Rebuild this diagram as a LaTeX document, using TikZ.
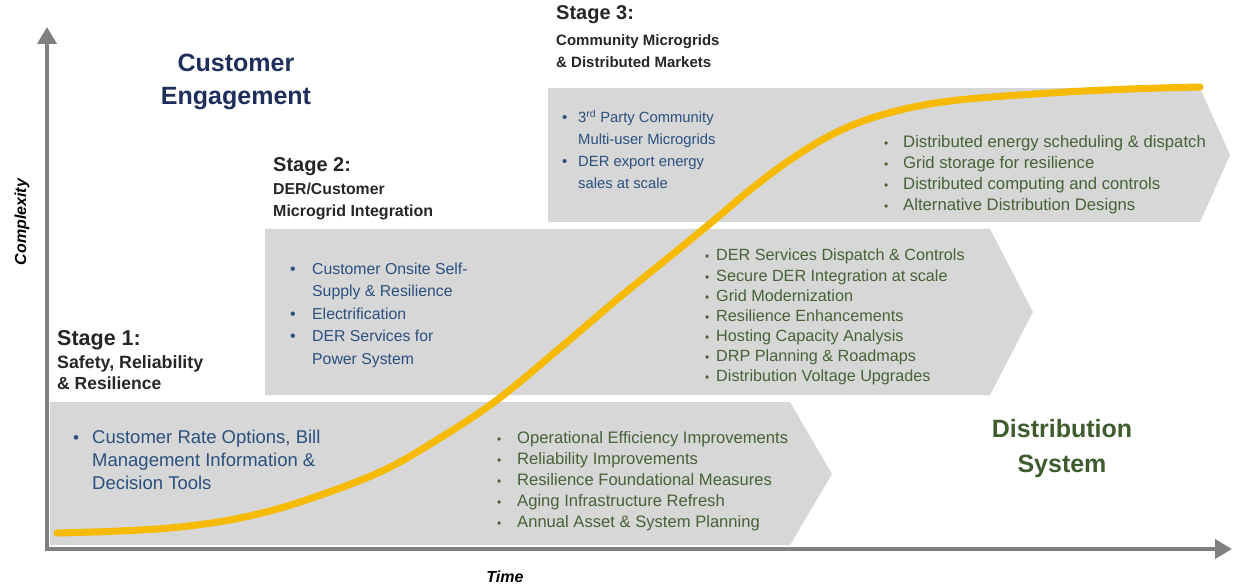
\documentclass[tikz,border=0pt]{standalone}
\usepackage{fontspec}
\setmainfont{Liberation Sans}
\usepackage{xcolor}
\definecolor{mynavy}{RGB}{30,47,92}
\definecolor{mybluetxt}{RGB}{42,80,128}
\definecolor{mydarkgreen}{RGB}{62,92,46}
\definecolor{mygreentxt}{RGB}{70,98,54}
\definecolor{mybandgrey}{RGB}{215,215,215}
\definecolor{myaxisgrey}{RGB}{128,128,128}
\definecolor{mygold}{RGB}{246,186,0}
\usetikzlibrary{arrows.meta,positioning}

\begin{document}
\begin{tikzpicture}[
  x=1pt, y=-1pt,
  myband/.style={fill=mybandgrey, draw=none},
  myaxisline/.style={draw=myaxisgrey, line width=4pt, line cap=rect,
    -{Triangle[width=19pt,length=17pt]}},
  mycurve/.style={draw=mygold, line width=7pt, line cap=round},
  mystage/.style={anchor=base west, inner sep=0pt, text=black!85,
    font=\bfseries\fontsize{#1}{24}\selectfont},
  mysub/.style={anchor=base west, inner sep=0pt, text=black!85,
    font=\bfseries\fontsize{#1}{18}\selectfont},
  mybig/.style={anchor=base, inner sep=0pt,
    font=\bfseries\fontsize{25}{29}\selectfont},
  myblueitem/.style={anchor=base west, inner sep=0pt, text=mybluetxt,
    font=\fontsize{#1}{20}\selectfont},
  mygreenitem/.style={anchor=base west, inner sep=0pt, text=mygreentxt,
    font=\fontsize{#1}{18}\selectfont},
  myaxislabel/.style={inner sep=0pt,
    font=\bfseries\itshape\fontsize{16}{19}\selectfont}
]
\useasboundingbox (0,0) rectangle (1233,585);

% bands
\fill[myband] (50,402) -- (790,402) -- (832,474) -- (790,545) -- (50,545) -- cycle;
\fill[myband] (265,229) -- (990,229) -- (1033,312) -- (990,395) -- (265,395) -- cycle;
\fill[myband] (548,88) -- (1200,88) -- (1230,155) -- (1200,222) -- (548,222) -- cycle;

% axes
\coordinate (origin) at (47,549);
\coordinate (ytip) at (47,27);
\coordinate (xtip) at (1232,549);
\draw[myaxisline] (origin) -- (ytip);
\draw[myaxisline] (origin) -- (xtip);

\node[myaxislabel, rotate=90] (ylabel) at (22,222) {Complexity};
\node[myaxislabel] (xlabel) at (505,577) {Time};

% big labels
\node[mybig, text=mynavy] (ce1) at (236,72) {Customer};
\node[mybig, text=mynavy] (ce2) at (236,105) {Engagement};
\node[mybig, text=mydarkgreen] (ds1) at (1062,437) {Distribution};
\node[mybig, text=mydarkgreen] (ds2) at (1062,472) {System};

% stage titles
\node[mystage=21.5] (st1) at (57,345) {Stage 1:};
\node[mysub=17.8] (st1a) at (57,368) {Safety, Reliability};
\node[mysub=17.5] (st1b) at (57,389) {\& Resilience};

\node[mystage=20] (st2) at (273,172) {Stage 2:};
\node[mysub=15.8] (st2a) at (273,195) {DER/Customer};
\node[mysub=16] (st2b) at (273,217) {Microgrid Integration};

\node[mystage=20] (st3) at (556,20) {Stage 3:};
\node[mysub=15] (st3a) at (556,46) {Community Microgrids};
\node[mysub=15] (st3b) at (556,68) {\& Distributed Markets};

% customer side items
\foreach \Bul/\Texto [count=\Li from 0] in {1/Customer Rate Options{,} Bill, 0/Management Information \&, 0/Decision Tools}{
  \node[myblueitem=18.5] (cu1-\Li) at (92,{443+23*\Li}) {\Texto};
  \ifnum\Bul=1 \node[myblueitem=17] (cub1-\Li) at (73,{443+23*\Li}) {\textbullet};\fi
}
\foreach \Bul/\Texto [count=\Li from 0] in {1/Customer Onsite Self-, 0/Supply \& Resilience, 1/Electrification, 1/DER Services for, 0/Power System}{
  \node[myblueitem=15.8] (cu2-\Li) at (312,{274+22.5*\Li}) {\Texto};
  \ifnum\Bul=1 \node[myblueitem=16] (cub2-\Li) at (290,{274+22.5*\Li}) {\textbullet};\fi
}
\foreach \Bul/\Texto [count=\Li from 0] in {1/3\textsuperscript{rd} Party Community, 0/Multi-user Microgrids, 1/DER export energy, 0/sales at scale}{
  \node[myblueitem=14.8] (cu3-\Li) at (578,{123+21.8*\Li}) {\Texto};
  \ifnum\Bul=1 \node[myblueitem=15] (cub3-\Li) at (562,{123+21.8*\Li}) {\textbullet};\fi
}

% distribution side items
\foreach \Texto [count=\Li from 0] in {Operational Efficiency Improvements, Reliability Improvements,
  Resilience Foundational Measures, Aging Infrastructure Refresh, Annual Asset \& System Planning}{
  \node[mygreenitem=16.6] (ds1-\Li) at (517,{443+21*\Li}) {\Texto};
  \node[mygreenitem=12] (dsb1-\Li) at (497,{443+21*\Li}) {\textbullet};
}
\foreach \Texto [count=\Li from 0] in {DER Services Dispatch \& Controls, Secure DER Integration at scale,
  Grid Modernization, Resilience Enhancements, Hosting Capacity Analysis,
  DRP Planning \& Roadmaps, Distribution Voltage Upgrades}{
  \node[mygreenitem=16.2] (ds2-\Li) at (716,{261+20*\Li}) {\Texto};
  \node[mygreenitem=12] (dsb2-\Li) at (705,{261+20*\Li}) {\textbullet};
}
\foreach \Texto [count=\Li from 0] in {Distributed energy scheduling \& dispatch, Grid storage for resilience,
  Distributed computing and controls, Alternative Distribution Designs}{
  \node[mygreenitem=16.7] (ds3-\Li) at (903,{148+20.7*\Li}) {\Texto};
  \node[mygreenitem=12] (dsb3-\Li) at (884,{148+20.7*\Li}) {\textbullet};
}

% adoption curve
\draw[mycurve] plot[smooth, tension=0.6] coordinates {(57,533) (120,531) (180,527) (240,518)
  (300,502) (380,472) (440,438) (497,400) (560,348) (620,297) (668,258) (712,222)
  (750,190) (790,160) (835,133) (885,114) (950,101) (1050,93) (1130,89) (1200,87)};
\end{tikzpicture}
\end{document}
